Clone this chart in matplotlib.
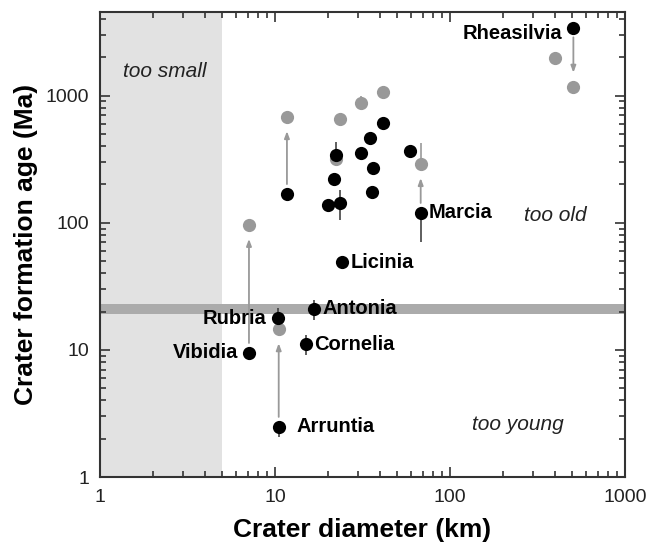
import matplotlib
matplotlib.use("Agg")
import matplotlib.pyplot as plt
from matplotlib.ticker import FixedLocator, FixedFormatter, LogLocator, NullFormatter

plt.rcParams['font.family'] = ['Liberation Sans', 'DejaVu Sans']

# crater diameter (km) and formation age (Ma) - dated craters
black_d = [507, 11.7, 41.6, 34.9, 30.9, 22.2, 36.5, 21.8, 35.8, 20.0, 23.5, 59.1, 68.0, 24.2, 16.8, 10.4, 7.1, 15.0, 10.5]
black_age = [3430, 169, 613, 467, 352, 342, 271, 221, 174, 137, 142, 367, 120, 48.9, 21.0, 17.7, 9.5, 11.1, 2.49]

# alternative / revised ages (gray)
gray_d = [507, 398, 11.7, 23.5, 30.9, 41.6, 22.2, 68.0, 7.1, 10.5]
gray_age = [1178, 1968, 676, 652, 881, 1064, 316, 289, 96, 14.5]

# arrows from old to revised age
arrow_d = [507, 11.7, 68.0, 7.1, 10.5]
arrow_from = [3430, 169, 120, 9.5, 2.49]
arrow_to = [1178, 676, 289, 96, 14.5]

# error bars (black points)
bar_d = [22.2, 23.5, 30.9, 68.0, 16.8, 10.4, 15.0, 7.1, 10.5]
bar_lo = [342, 105, 312, 70, 17.2, 17.7, 9.1, 8.3, 2.07]
bar_hi = [435, 181, 394, 120, 24.7, 21.4, 13.1, 9.5, 2.49]

# error bars (gray points)
gbar_d = [30.9, 68.0, 10.5]
gbar_lo = [770, 289, 14.5]
gbar_hi = [1000, 422, 17.0]

# named craters
names = ['Rheasilvia', 'Marcia', 'Licinia', 'Antonia', 'Rubria', 'Vibidia', 'Cornelia', 'Arruntia']
name_d = [507, 68.0, 24.2, 16.8, 10.4, 7.1, 15.0, 10.5]
name_age = [3430, 120, 48.9, 21.0, 17.7, 9.5, 11.1, 2.49]
# label placement (offset points, alignment)
name_pos = [(-8, -4, 'right'), (6, 0, 'left'), (6, 0, 'left'), (6, 0, 'left'),
            (-8, 0, 'right'), (-8, 0, 'right'), (6, 0, 'left'), (13, 0, 'left')]

band = (19.2, 23.0)
too_small = 5

fig = plt.figure(figsize=(6.51, 5.43), dpi=100)
ax = fig.add_axes([100/651, 66/543, 525/651, 465/543])
ax.set_xscale('log')
ax.set_yscale('log')
ax.set_xlim(1, 1000)
ax.set_ylim(1, 4550)

ax.axvspan(1, too_small, color='#e2e2e2', zorder=0, lw=0)
ax.axhspan(band[0], band[1], color='#ababab', zorder=1, lw=0)

gcol = '#999999'
ax.vlines(gbar_d, gbar_lo, gbar_hi, color=gcol, lw=1.2, zorder=2)
ax.vlines(bar_d, bar_lo, bar_hi, color='#333333', lw=1.1, zorder=2)

for d, a0, a1 in zip(arrow_d, arrow_from, arrow_to):
    ax.annotate('', xy=(d, a1), xytext=(d, a0),
                arrowprops=dict(arrowstyle='-|>,head_length=0.4,head_width=0.15',
                                color=gcol, lw=1.3, shrinkA=7, shrinkB=10),
                zorder=2)

ax.plot(gray_d, gray_age, 'o', color=gcol, ms=9.5, mec='none', zorder=3)
ax.plot(black_d, black_age, 'o', color='black', ms=9.5, mec='none', zorder=4)

for n, d, a, (dx, dy, ha) in zip(names, name_d, name_age, name_pos):
    ax.annotate(n, (d, a), xytext=(dx, dy), textcoords='offset points',
                ha=ha, va='center', fontsize=14.5, fontweight='bold', zorder=5)

ax.text(1.35, 1540, 'too small', fontsize=15, style='italic', color='#222222', ha='left', va='center')
ax.text(398, 115, 'too old', fontsize=15, style='italic', color='#222222', ha='center', va='center')
ax.text(245, 2.57, 'too young', fontsize=15, style='italic', color='#222222', ha='center', va='center')

ticks = [1, 10, 100, 1000]
ax.xaxis.set_major_locator(FixedLocator(ticks))
ax.xaxis.set_major_formatter(FixedFormatter([str(t) for t in ticks]))
ax.yaxis.set_major_locator(FixedLocator(ticks))
ax.yaxis.set_major_formatter(FixedFormatter([str(t) for t in ticks]))
for axis in (ax.xaxis, ax.yaxis):
    axis.set_minor_locator(LogLocator(base=10, subs=range(2, 10)))
    axis.set_minor_formatter(NullFormatter())

ax.tick_params(which='both', direction='in', top=True, right=True, color='#333333', width=1.2)
ax.tick_params(which='major', length=7, labelsize=14, colors='#333333', labelcolor='#222222')
ax.tick_params(which='minor', length=4)
ax.tick_params(axis='x', which='major', pad=9)
ax.tick_params(axis='y', which='major', pad=8)
for s in ax.spines.values():
    s.set_linewidth(1.5)
    s.set_color('#333333')

ax.set_xlabel('Crater diameter (km)', fontsize=19, fontweight='bold', labelpad=8)
ax.set_ylabel('Crater formation age (Ma)', fontsize=19, fontweight='bold', labelpad=5)

fig.savefig('out.png', dpi=100)
